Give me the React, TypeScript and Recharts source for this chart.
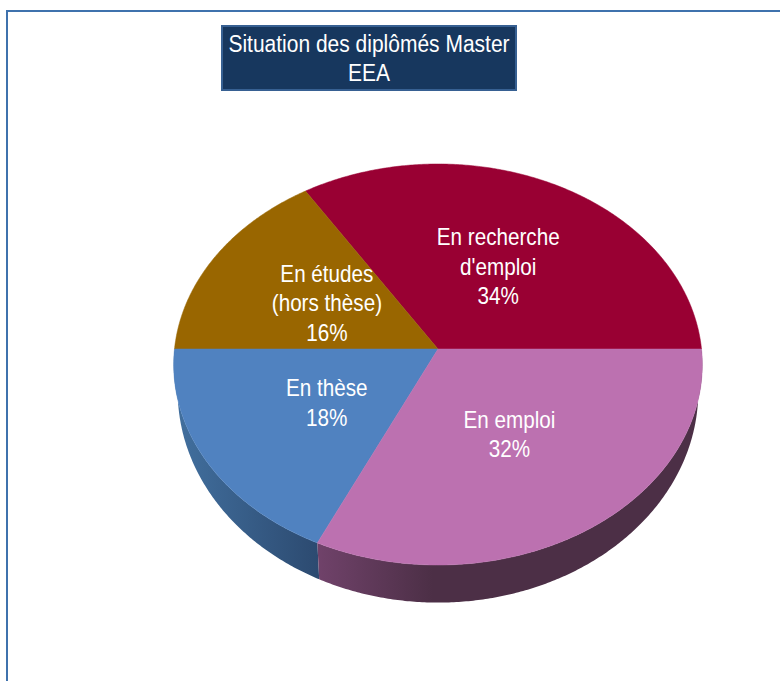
import { PieChart, Pie } from "recharts";

const categories = ["En recherche d'emploi", "En études (hors thèse)", "En thèse", "En emploi"];
const values = [34, 16, 18, 32];
const labelLines = [["En recherche", "d'emploi"], ["En études", "(hors thèse)"], ["En thèse"], ["En emploi"]];
const topColors = ["#990033", "#996600", "#5082c0", "#bc71b0"];
const wallFills = ["#4c2f46", "#4c2f46", "url(#wallBlue)", "url(#wallPink)"];

const tableData = categories.map((name, i) => ({ name, value: values[i], lines: labelLines[i] }));

// the pie is drawn tilted: a circle pushed through a small perspective
const TILT = 0.0773;
const RX_RATIO = 1;
const RY_RATIO = 199.3 / 263.5;
const DEPTH_Y = 26;
const BOTTOM_RX = 259.5 / 263.5;
const BOTTOM_RY = 210 / 263.5;

function project(cx: number, cy: number, r: number, deg: number, t = 1, rx = RX_RATIO, ry = RY_RATIO) {
  const a = (deg * Math.PI) / 180;
  const u = t * Math.cos(a);
  const v = t * Math.sin(a);
  const w = 1 + TILT * v;
  return { x: cx + (r * rx * u) / w, y: cy - (r * ry * v) / w };
}

function arcPoints(from: number, to: number, fn: (deg: number) => { x: number; y: number }) {
  const pts = [];
  const n = Math.max(2, Math.ceil(Math.abs(to - from) * 2));
  for (let i = 0; i <= n; i++) {
    const p = fn(from + ((to - from) * i) / n);
    pts.push(`${p.x.toFixed(2)},${p.y.toFixed(2)}`);
  }
  return pts;
}

function TopSlice(props: any) {
  const { cx, cy, outerRadius, startAngle, endAngle, fill } = props;
  const pts = arcPoints(startAngle, endAngle, (d) => project(cx, cy, outerRadius, d));
  return <path d={`M${cx},${cy} L${pts.join(" L")} Z`} fill={fill} stroke={fill} strokeWidth={0.5} />;
}

function WallSlice(props: any) {
  const { cx, cy, outerRadius, startAngle, endAngle, index } = props;
  // only the front half of the pie shows a side
  const from = Math.max(startAngle, 180);
  const to = Math.min(endAngle, 360);
  if (to <= from) return <g />;
  const upper = arcPoints(from, to, (d) => project(cx, cy, outerRadius, d));
  const lower = arcPoints(to, from, (d) => project(cx, cy + DEPTH_Y, outerRadius, d, 1, BOTTOM_RX, BOTTOM_RY));
  return <path d={`M${upper.join(" L")} L${lower.join(" L")} Z`} fill={wallFills[index]} />;
}

function SliceLabel(props: any) {
  const { cx, cy, outerRadius, midAngle, payload, value } = props;
  const p = project(cx, cy, outerRadius, midAngle, 0.49);
  const lines = [...payload.lines, `${value}%`];
  const lh = 29.5;
  const top = p.y - ((lines.length - 1) * lh) / 2;
  return (
    <g>
      {lines.map((line: string, i: number) => (
        <text
          key={i}
          transform={`translate(${p.x} ${top + i * lh + 8.5}) scale(0.88 1)`}
          textAnchor="middle"
          fill="#ffffff"
          fontFamily="'Liberation Sans', Arial, sans-serif"
          fontSize={23.5}
        >
          {line}
        </text>
      ))}
    </g>
  );
}

export default function App() {
  const topData = tableData.map((d, i) => ({ ...d, fill: topColors[i] }));

  return (
    <div style={{ position: "absolute", left: 0, top: 0, width: 780, height: 681, background: "#fff", overflow: "hidden" }}>
      <div
        style={{
          position: "absolute",
          left: 6,
          top: 10,
          width: 800,
          height: 700,
          borderLeft: "2px solid #3f72ad",
          borderTop: "2px solid #3f72ad",
        }}
      />
      <PieChart width={780} height={681} margin={{ top: 0, right: 0, bottom: 0, left: 0 }} style={{ position: "absolute", left: 0, top: 0 }}>
        <defs>
          <linearGradient id="wallBlue" x1="0" y1="0" x2="1" y2="0">
            <stop offset="0%" stopColor="#42709f" />
            <stop offset="100%" stopColor="#2c4a70" />
          </linearGradient>
          <linearGradient id="wallPink" x1="0" y1="0" x2="1" y2="0">
            <stop offset="0%" stopColor="#70426a" />
            <stop offset="30%" stopColor="#4c2f46" />
            <stop offset="100%" stopColor="#4c2f46" />
          </linearGradient>
        </defs>
        <Pie
          data={tableData}
          dataKey="value"
          cx={438}
          cy={349}
          outerRadius={263.5}
          startAngle={0}
          endAngle={360}
          stroke="none"
          shape={(p: any) => <WallSlice {...p} />}
          isAnimationActive={false}
        />
        <Pie
          data={topData}
          dataKey="value"
          cx={438}
          cy={349}
          outerRadius={263.5}
          startAngle={0}
          endAngle={360}
          stroke="none"
          shape={(p: any) => <TopSlice {...p} />}
          label={(p: any) => <SliceLabel {...p} />}
          labelLine={false}
          isAnimationActive={false}
        />
      </PieChart>
      <div
        style={{
          position: "absolute",
          left: 221,
          top: 25,
          width: 296,
          height: 66,
          boxSizing: "border-box",
          background: "#17375e",
          border: "2px solid #376092",
          color: "#fff",
          fontFamily: "'Liberation Sans', Arial, sans-serif",
          fontSize: 23.5,
          lineHeight: "29px",
          textAlign: "center",
          paddingTop: 3,
          whiteSpace: "nowrap",
        }}
      >
        <div style={{ transform: "scaleX(0.893)", marginLeft: -40, marginRight: -40 }}>
          Situation des diplômés Master
          <br />
          EEA
        </div>
      </div>
    </div>
  );
}
